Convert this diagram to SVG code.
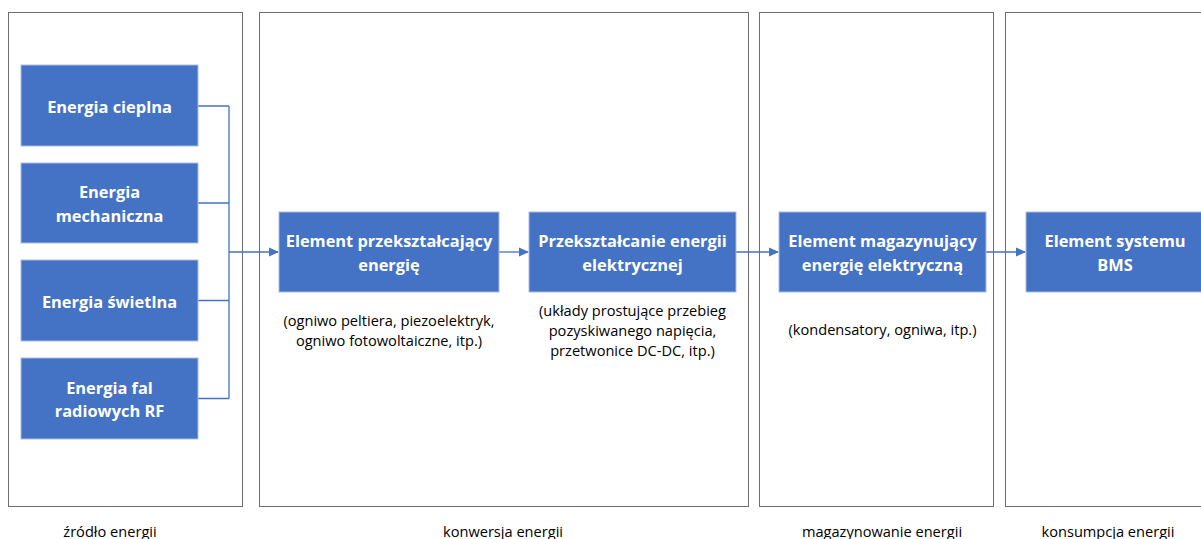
<svg xmlns="http://www.w3.org/2000/svg" width="1201" height="539" viewBox="0 0 1201 539">
<style>
.panel{fill:#fff;stroke:#6e6e6e;stroke-width:1}
.box{fill:#4472C4;stroke:#A9BCE3;stroke-width:1}
.bt{font-family:"Open Sans","Liberation Sans",Arial,sans-serif;font-weight:bold;font-size:16.4px;fill:#fff;text-anchor:middle;dominant-baseline:central}
.nt{font-family:"Open Sans","Liberation Sans",Arial,sans-serif;font-size:14.6px;fill:#000;text-anchor:middle;dominant-baseline:central}
.ln{fill:none;stroke:#4472C4;stroke-width:1.3}
</style>
<defs>
<marker id="ah" markerWidth="10" markerHeight="10" refX="9" refY="5" orient="auto" markerUnits="userSpaceOnUse">
<path d="M0,0.5 L10,5 L0,9.5 Z" fill="#4472C4"/>
</marker>
</defs>
<rect width="1201" height="539" fill="#fff"/>
<g id="panels">
<rect class="panel" x="8.5" y="12.5" width="234" height="494"/>
<rect class="panel" x="259.5" y="12.5" width="489" height="494"/>
<rect class="panel" x="759.5" y="12.5" width="234" height="494"/>
<rect class="panel" x="1005.5" y="12.5" width="210" height="494"/>
</g>
<g id="connectors">
<path class="ln" d="M198,106 H229 M198,203 H229 M198,300.5 H229 M198,398.5 H229 M229,106 V398.5"/>
<path class="ln" d="M229,252 H278" marker-end="url(#ah)"/>
<path class="ln" d="M499,252 H528" marker-end="url(#ah)"/>
<path class="ln" d="M736,252 H778" marker-end="url(#ah)"/>
<path class="ln" d="M986,252 H1025" marker-end="url(#ah)"/>
</g>
<g id="n1"><rect class="box" x="21" y="65" width="177" height="81"/><text class="bt" x="109.5" y="106">Energia cieplna</text></g>
<g id="n2"><rect class="box" x="21" y="163" width="177" height="80"/><text class="bt" x="109.5" y="191">Energia</text><text class="bt" x="109.5" y="215">mechaniczna</text></g>
<g id="n3"><rect class="box" x="21" y="260" width="177" height="81"/><text class="bt" x="109.5" y="301">Energia świetlna</text></g>
<g id="n4"><rect class="box" x="21" y="358" width="177" height="81"/><text class="bt" x="109.5" y="387">Energia fal</text><text class="bt" x="109.5" y="410">radiowych RF</text></g>
<g id="n5"><rect class="box" x="279" y="212" width="220" height="80"/><text class="bt" x="389" y="240">Element przekształcający</text><text class="bt" x="389" y="264">energię</text></g>
<g id="n6"><rect class="box" x="529" y="212" width="207" height="80"/><text class="bt" x="632.5" y="240">Przekształcanie energii</text><text class="bt" x="632.5" y="264">elektrycznej</text></g>
<g id="n7"><rect class="box" x="779" y="212" width="207" height="80"/><text class="bt" x="882.5" y="240">Element magazynujący</text><text class="bt" x="882.5" y="264">energię elektryczną</text></g>
<g id="n8"><rect class="box" x="1026" y="212" width="190" height="80"/><text class="bt" x="1115" y="240">Element systemu</text><text class="bt" x="1115" y="264">BMS</text></g>
<g id="descriptions">
<text class="nt" x="389" y="320">(ogniwo peltiera, piezoelektryk,</text>
<text class="nt" x="389" y="340">ogniwo fotowoltaiczne, itp.)</text>
<text class="nt" x="632.5" y="310">(układy prostujące przebieg</text>
<text class="nt" x="632.5" y="330">pozyskiwanego napięcia,</text>
<text class="nt" x="632.5" y="350">przetwonice DC-DC, itp.)</text>
<text class="nt" x="882.5" y="329">(kondensatory, ogniwa, itp.)</text>
</g>
<g id="labels">
<text class="nt" x="110" y="531">źródło energii</text>
<text class="nt" x="503" y="531">konwersja energii</text>
<text class="nt" x="882" y="531">magazynowanie energii</text>
<text class="nt" x="1108" y="531">konsumpcja energii</text>
</g>
</svg>
